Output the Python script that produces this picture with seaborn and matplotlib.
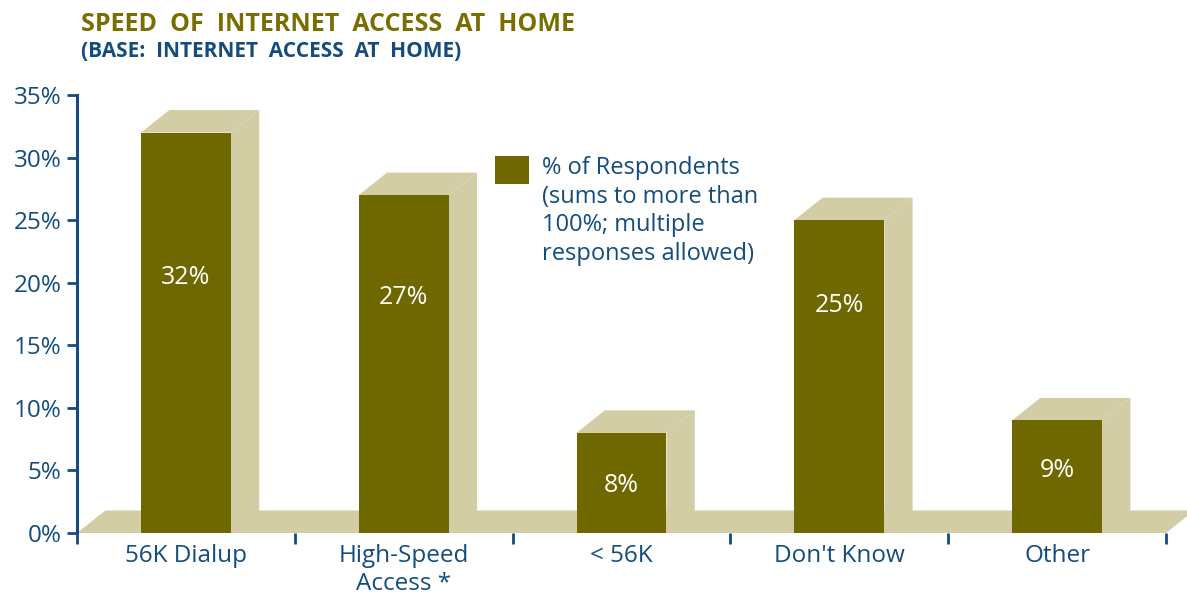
import matplotlib
matplotlib.use("Agg")
import matplotlib.pyplot as plt
import seaborn as sns
import pandas as pd
from matplotlib.patches import Polygon, Patch

# data
categories = ["56K Dialup", "High-Speed\nAccess *", "< 56K", "Don't Know", "Other"]
values = [32, 27, 8, 25, 9]
value_labels = ["32%", "27%", "8%", "25%", "9%"]
label_heights = [20.4, 18.8, 3.8, 18.2, 5.0]
y_ticks = [0, 5, 10, 15, 20, 25, 30, 35]

olive = "#6f6700"
tan = "#d2cda5"
blue = "#134c7d"
title_col = "#7a6e00"

sns.set_theme(style="white")
plt.rcParams["font.family"] = ["Open Sans", "DejaVu Sans"]

df = pd.DataFrame({"cat": categories, "val": values})

fig = plt.figure(figsize=(11.87, 5.95), dpi=100)
ax = fig.add_axes([0.0649, 0.1042, 0.9174, 0.7361])

sns.barplot(data=df, x="cat", y="val", color=olive, width=0.413, saturation=1,
            ax=ax, zorder=3, edgecolor="none")

# pseudo-3D depth in data units
dx, dy = 0.13, 1.8

# floor
ax.add_patch(Polygon([(-0.5, 0), (-0.5 + dx, dy), (4.5 + dx, dy), (4.5, 0)],
                     closed=True, facecolor=tan, edgecolor="none",
                     zorder=1, clip_on=False))

for p in ax.patches[:len(values)]:
    x0 = p.get_x()
    x1 = x0 + p.get_width()
    h = p.get_height()
    side = Polygon([(x1, 0), (x1 + dx, dy), (x1 + dx, h + dy), (x1, h)],
                   closed=True, facecolor=tan, edgecolor="none", zorder=2)
    top = Polygon([(x0, h), (x0 + dx, h + dy), (x1 + dx, h + dy), (x1, h)],
                  closed=True, facecolor=tan, edgecolor="none", zorder=2)
    ax.add_patch(side)
    ax.add_patch(top)

for i, (lab, ly) in enumerate(zip(value_labels, label_heights)):
    ax.text(i, ly, lab, color="white", ha="center", va="center",
            fontsize=18, zorder=4)

ax.set_xlim(-0.5, 4.5)
ax.set_ylim(0, 35)
ax.set_yticks(y_ticks)
ax.set_yticklabels([f"{t}%" for t in y_ticks])
ax.set_xticks(range(len(categories)))
ax.set_xticklabels(categories)
ax.set_xticks([i - 0.5 for i in range(len(categories) + 1)], minor=True)
ax.set_xlabel("")
ax.set_ylabel("")

for s in ["top", "right", "bottom"]:
    ax.spines[s].set_visible(False)
ax.spines["left"].set_color(blue)
ax.spines["left"].set_linewidth(2.2)

ax.tick_params(axis="y", direction="out", length=7, width=2, color=blue,
               labelcolor=blue, labelsize=17.5, pad=4, left=True)
ax.tick_params(axis="x", which="major", length=0, labelcolor=blue,
               labelsize=17.5, pad=8)
ax.tick_params(axis="x", which="minor", direction="out", length=8, width=2,
               color=blue, bottom=True)

handle = Patch(facecolor=olive, edgecolor="none")
leg = ax.legend([handle], ["% of Respondents\n(sums to more than\n100%; multiple\nresponses allowed)"],
                loc="upper left", bbox_to_anchor=(0.364, 0.91), frameon=False,
                fontsize=17, handlelength=1.45, handleheight=1.45,
                handletextpad=0.55, labelcolor=blue)
leg.get_texts()[0].set_linespacing(1.27)
# square sits next to the first line, not the middle
for col in leg._legend_handle_box.get_children():
    for row in col.get_children():
        row.align = "top"

fig.text(0.068, 0.958, "SPEED  OF  INTERNET  ACCESS  AT  HOME", color=title_col,
         fontsize=18, fontweight="bold", ha="left", va="center")
fig.text(0.068, 0.914, "(BASE:  INTERNET  ACCESS  AT  HOME)", color=blue,
         fontsize=15, fontweight="bold", ha="left", va="center")

fig.savefig("out.png", dpi=100)
